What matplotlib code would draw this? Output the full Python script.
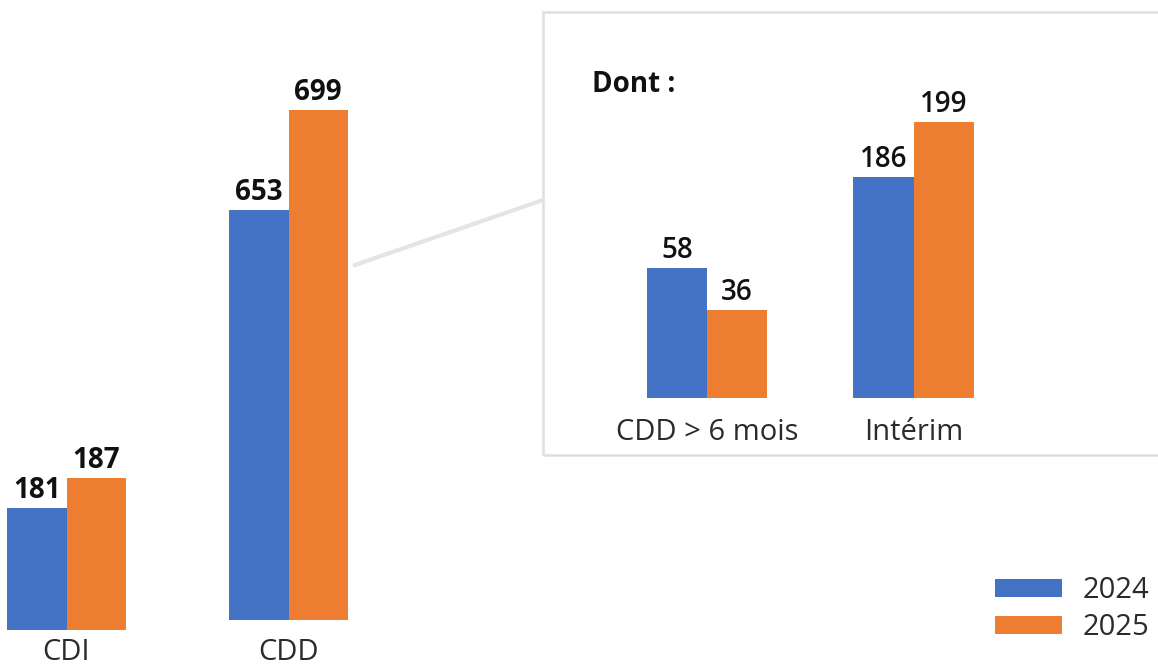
import matplotlib
matplotlib.use("Agg")
import matplotlib.pyplot as plt
from matplotlib.patches import Rectangle, Patch
from matplotlib.lines import Line2D

# ------------------------- data -------------------------
years = ["2024", "2025"]
main_categories = ["CDI", "CDD"]
main_2024 = [181, 653]
main_2025 = [187, 699]
inset_title = "Dont :"
inset_categories = ["CDD > 6 mois", "Intérim"]
inset_2024 = [58, 186]
inset_2025 = [36, 199]

# ------------------------- style -------------------------
BLUE = "#4472C4"
ORANGE = "#ED7D31"
TEXT = "#111111"
LABEL = "#2b2b2b"
FRAME = "#dedede"
plt.rcParams["font.family"] = ["Open Sans", "DejaVu Sans"]

W, H = 1158, 667
fig = plt.figure(figsize=(W / 100, H / 100), dpi=100)
fig.patch.set_facecolor("white")

# infographic: each group has its own value scale (pixel rect + ylim)
groups = [
    # (label, v2024, v2025, left px, width px, baseline px, ylim, value weight, label offset pt)
    (main_categories[0], main_2024[0], main_2025[0], 7, 119, 630, (156.6, 282.6), "bold", 21.6),
    (main_categories[1], main_2024[1], main_2025[1], 229, 119, 620, (464.4, 749.6), "bold", 28.8),
    (inset_categories[0], inset_2024[0], inset_2025[0], 647, 120, 398, (-10.1, 198.4), "semibold", 30.2),
    (inset_categories[1], inset_2024[1], inset_2025[1], 853, 121, 398, (133.8, 227.9), "semibold", 30.2),
]

for label, v1, v2, left, width, base, ylim, weight, lab_off in groups:
    ax = fig.add_axes([left / W, (H - base) / H, width / W, base / H])
    ax.set_facecolor("none")
    lo = ylim[0]
    vals = [v1, v2]
    bars = ax.bar([0, 1], [v - lo for v in vals], width=1.0, bottom=lo,
                  color=[BLUE, ORANGE])
    ax.set_xlim(-0.5, 1.5)
    ax.set_ylim(*ylim)
    for b, v in zip(bars, vals):
        ax.annotate(str(v), (b.get_x() + b.get_width() / 2, v),
                    xytext=(0, 7.5), textcoords="offset points",
                    ha="center", va="baseline", fontsize=20,
                    fontweight=weight, color=TEXT)
    ax.annotate(label, (0.5, 0), xycoords=("data", "axes fraction"),
                xytext=(0, -lab_off), textcoords="offset points",
                ha="center", va="baseline", fontsize=21, color=LABEL,
                annotation_clip=False)
    ax.axis("off")

# inset frame and connector
fig.add_artist(Rectangle((543 / W, 1 - 455 / H), 640 / W, 443 / H,
                         transform=fig.transFigure, fill=False,
                         edgecolor=FRAME, linewidth=1.8))
fig.add_artist(Line2D([355 / W, 543 / W], [1 - 265 / H, 1 - 200 / H],
                      transform=fig.transFigure, color="#e4e4e4", linewidth=3))
fig.text(592 / W, 1 - 92 / H, inset_title, fontsize=20, fontweight="bold",
         color=TEXT, va="baseline", ha="left")

# legend
handles = [Patch(facecolor=BLUE), Patch(facecolor=ORANGE)]
fig.legend(handles, years, loc="upper left", bbox_to_anchor=(995 / W, 1 - 576 / H),
           frameon=False, fontsize=21, handlelength=2.3, handleheight=0.58,
           handletextpad=0.72, labelspacing=0.27, borderpad=0, borderaxespad=0,
           labelcolor=LABEL)

fig.savefig("out.png", dpi=100)
